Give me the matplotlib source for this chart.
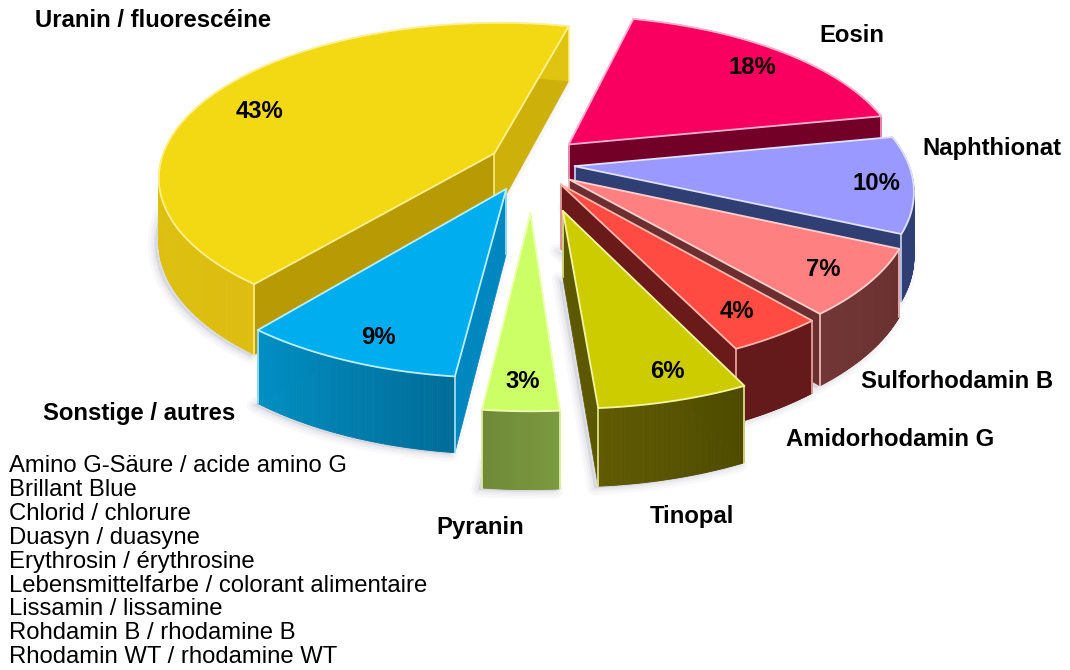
import numpy as np
import matplotlib
matplotlib.use('Agg')
import matplotlib.pyplot as plt
from matplotlib.patches import Polygon

plt.rcParams['font.family'] = ['Liberation Sans', 'DejaVu Sans']

# clockwise from the start angle
names = ['Eosin', 'Naphthionat', 'Sulforhodamin B', 'Amidorhodamin G', 'Tinopal', 'Pyranin',
         'Sonstige / autres', 'Uranin / fluorescéine']
values = [18, 10, 7, 4, 6, 3, 9, 43]
others = ['Amino G-Säure / acide amino G', 'Brillant Blue', 'Chlorid / chlorure', 'Duasyn / duasyne',
          'Erythrosin / érythrosine', 'Lebensmittelfarbe / colorant alimentaire', 'Lissamin / lissamine',
          'Rohdamin B / rhodamine B', 'Rhodamin WT / rhodamine WT']

explode = [0.15, 0.125, 0.135, 0.15, 0.33, 0.33, 0.2, 0.13]
drop = [0, 4, 7, 5, 0, 0, 0, 2]
top_col = ['#F90060', '#9999FF', '#FF8080', '#FF4B41', '#CCCC00', '#CCFF66', '#00ADEE', '#F3D814']
edge_col = ['#FFB0D0', '#E0E0FF', '#FFD0D0', '#FFB8B0', '#F5F5A0', '#EEFFB0', '#B8F0FF', '#FFF090']
start_wall = ['#9A0A45', '#2F3E73', '#6B2F2F', '#6B1A1A', '#5C5800', '#76923C', '#0087C0', '#B89A05']
end_wall = ['#720027', '#2F3E73', '#6B2F2F', '#6B1A1A', '#5C5800', '#76923C', '#0087C0', '#CDB00A']
arc_a = ['#720027', '#2F3E73', '#6A3030', '#641A1A', '#4E4B00', '#7C9A40', '#006C98', '#DDBE10']
arc_b = ['#720027', '#2F3E73', '#723636', '#641A1A', '#5F5A00', '#6E8A38', '#0090C4', '#E0C412']

draw_order = [7, 0, 1, 2, 3, 4, 6, 5]

label_x = [819, 922, 861, 786, 650, 436, 43, 35]
label_y = [42, 155, 388, 446, 523, 534, 420, 27]
pct_x = [752, 876, 823, 737, 667, 523, 378, 259]
pct_y = [68, 184, 270, 311, 372, 381, 337, 111]

start_angle = 13.85
xc, yc = 533, 160
rx, ry, persp, wall = 334, 152, 0.147, 63


def project(u, v):
    d = 1 + persp * v
    return xc + rx * u / d, yc - ry * v / d, wall / d


def hex_mix(a, b, t):
    a = np.array(matplotlib.colors.to_rgb(a))
    b = np.array(matplotlib.colors.to_rgb(b))
    return a + (b - a) * t


fig = plt.figure(figsize=(10.7, 6.7), dpi=100)
ax = fig.add_axes([0, 0, 1, 1])
ax.set_xlim(0, 1070)
ax.set_ylim(670, 0)
ax.axis('off')

edges = start_angle + np.concatenate([[0], np.cumsum(values)]) * 3.6

for i in draw_order:
    a0, a1 = np.radians(edges[i]), np.radians(edges[i + 1])
    mid = (a0 + a1) / 2
    ou, ov = explode[i] * np.sin(mid), explode[i] * np.cos(mid)
    th = np.linspace(a0, a1, 120)
    px, py, ph = project(ou + np.sin(th), ov + np.cos(th))
    ax_, ay_, ah_ = project(ou, ov)
    py = py + drop[i]
    ay_ = ay_ + drop[i]

    # soft shadow under the walls
    sx = np.concatenate([[ax_], px, [ax_]])
    sy = np.concatenate([[ay_ + ah_], py + ph, [ay_ + ah_]])
    for lw, al in [(10, 0.05), (6, 0.06), (3, 0.07)]:
        ax.add_patch(Polygon(np.c_[sx - 4, sy + 2], closed=True, fc='#8888A0', ec='#8888A0', lw=lw, alpha=al,
                             joinstyle='round', zorder=1))

    z = 10 + draw_order.index(i) * 10
    # radial walls
    ax.add_patch(Polygon([(ax_, ay_), (px[0], py[0]), (px[0], py[0] + ph[0]), (ax_, ay_ + ah_)],
                         fc=start_wall[i], ec=start_wall[i], lw=0.5, zorder=z))
    ax.add_patch(Polygon([(ax_, ay_), (px[-1], py[-1]), (px[-1], py[-1] + ph[-1]), (ax_, ay_ + ah_)],
                         fc=end_wall[i], ec=end_wall[i], lw=0.5, zorder=z))
    # outer wall, shaded along the arc
    for k in range(len(th) - 1):
        c = hex_mix(arc_a[i], arc_b[i], k / (len(th) - 2))
        ax.add_patch(Polygon([(px[k], py[k]), (px[k + 1], py[k + 1]), (px[k + 1], py[k + 1] + ph[k + 1]),
                              (px[k], py[k] + ph[k])], fc=c, ec=c, lw=0.6, zorder=z + 1))
    # corners
    for cx, cy, ch in [(ax_, ay_, ah_), (px[0], py[0], ph[0]), (px[-1], py[-1], ph[-1])]:
        ax.plot([cx, cx], [cy, cy + ch], color=edge_col[i], lw=1.1, zorder=z + 2)
    # top face
    ax.add_patch(Polygon(np.c_[np.r_[ax_, px], np.r_[ay_, py]], closed=True, fc=top_col[i], ec=edge_col[i],
                         lw=1.3, joinstyle='round', zorder=z + 3))

for i in range(len(names)):
    ax.text(label_x[i], label_y[i], names[i], fontsize=17.2, fontweight='bold', color='black',
            ha='left', va='baseline', zorder=200)
    ax.text(pct_x[i], pct_y[i], '%d%%' % values[i], fontsize=17.2, fontweight='bold', color='black',
            ha='center', va='center', zorder=200)

for i, t in enumerate(others):
    ax.text(9, 472 + i * 23.9, t, fontsize=17.2, color='black', ha='left', va='baseline', zorder=200)

fig.savefig('out.png', dpi=100)
